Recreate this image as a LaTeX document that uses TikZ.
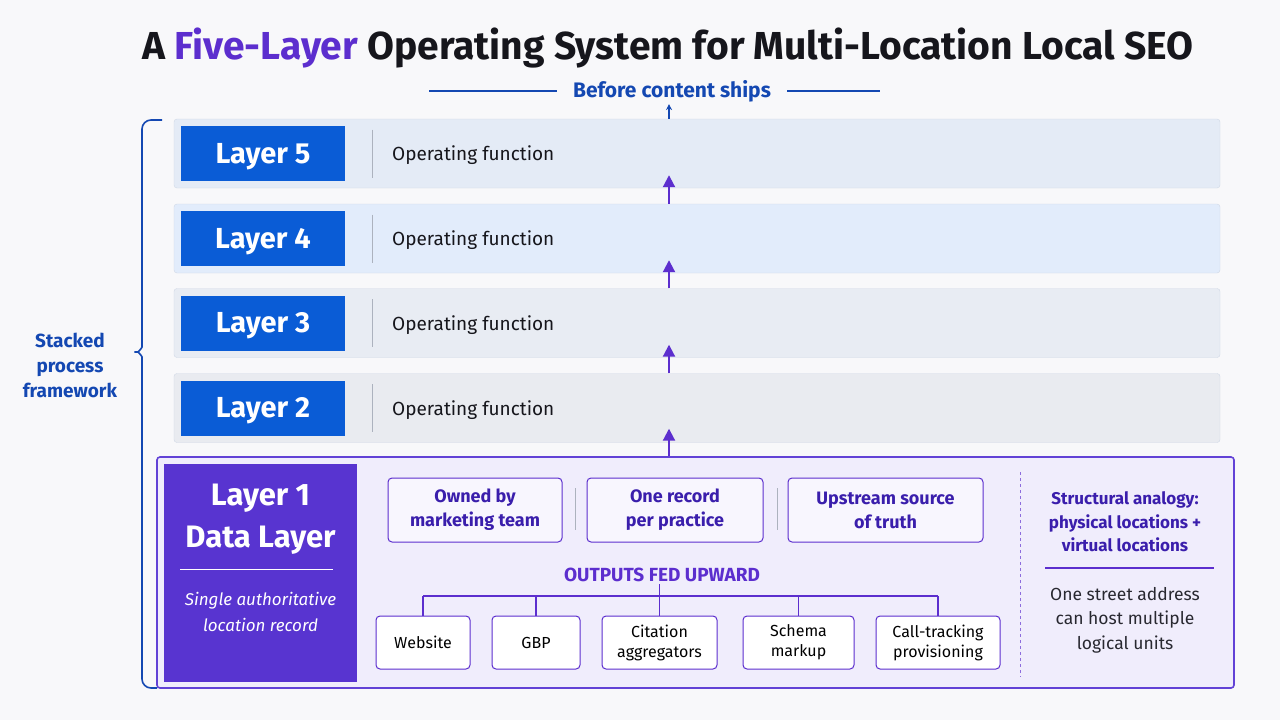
\documentclass[tikz,border=0pt]{standalone}
\usepackage{fontspec}
\setmainfont{Fira Sans}
\usetikzlibrary{arrows.meta,positioning,calc}
\definecolor{inkpurple}{RGB}{92,46,206}
\definecolor{factink}{RGB}{58,30,172}
\definecolor{inkblue}{RGB}{20,72,178}
\definecolor{titleink}{RGB}{22,22,28}
\definecolor{layerblue}{RGB}{10,92,214}
\definecolor{datapurple}{RGB}{88,52,208}
\definecolor{dataedge}{RGB}{98,66,214}
\definecolor{lavender}{RGB}{240,237,252}
\definecolor{paper}{RGB}{248,248,250}
\definecolor{rowedge}{RGB}{208,216,230}
\definecolor{rowrule}{RGB}{172,178,190}
\definecolor{rowfive}{RGB}{228,235,246}
\definecolor{rowfour}{RGB}{226,236,251}
\definecolor{rowthree}{RGB}{232,236,243}
\definecolor{rowtwo}{RGB}{233,235,240}
\definecolor{noteink}{RGB}{40,40,48}

\begin{document}
\begin{tikzpicture}[x=1pt,y=-1pt,
    row/.style={draw=rowedge, fill=#1, rounded corners=3pt, minimum width=1046pt, minimum height=69pt, inner sep=0pt},
    tag/.style={fill=layerblue, minimum width=164pt, minimum height=55pt, inner sep=0pt},
    tagtext/.style={text=white, font=\fontsize{29}{32}\selectfont\bfseries},
    fn/.style={anchor=west, inner sep=0pt, text=titleink, font=\fontsize{19}{22}\selectfont},
    factbox/.style={draw=inkpurple, line width=1pt, fill=lavender!50!white, rounded corners=4pt, minimum height=64pt, inner sep=0pt, align=center, text=factink, font=\fontsize{18}{24}\selectfont\bfseries},
    outbox/.style={draw=inkpurple, line width=1pt, fill=white, rounded corners=4pt, minimum height=53pt, inner sep=0pt, align=center, text=black, font=\fontsize{16}{20}\selectfont},
    uparrow/.style={draw=inkpurple, line width=2pt, -{Triangle[length=12pt,width=12pt]}},
    bus/.style={draw=inkpurple, line width=1.4pt},
    bracket/.style={draw=inkblue, line width=1.6pt}
]
\useasboundingbox (0,0) rectangle (1280,720);
\fill[paper] (0,0) rectangle (1280,720);

% Title
\node[anchor=base, text=titleink, font=\fontsize{39}{44}\selectfont\bfseries] (title) at (668,59)
    {A \textcolor{inkpurple}{Five-Layer} Operating System for Multi-Location Local SEO};
\node[text=inkblue, font=\fontsize{21}{24}\selectfont\bfseries, inner sep=2pt] (ships) at (672,91) {Before content ships};
\draw[inkblue, line width=1.2pt] ([xshift=-14pt]ships.west) -- ++(-128,0);
\draw[inkblue, line width=1.2pt] ([xshift=14pt]ships.east) -- ++(93,0);

% Layers 5 to 2
\foreach \n/\yc/\col in {5/153.5/rowfive, 4/238.5/rowfour, 3/323/rowthree, 2/408/rowtwo} {
  \node[row=\col] (row\n) at (697,\yc) {};
  \node[tag] (tag\n) at (263,\yc) {};
  \node[tagtext] at (263,\yc+3) {Layer \n};
  \draw[rowrule, line width=0.8pt] (372,\yc-24) -- (372,\yc+24);
  \node[fn] (fn\n) at (392,\yc+2) {Operating function};
}

% Layer 1
\node[draw=dataedge, line width=1.6pt, fill=lavender, rounded corners=3pt, minimum width=1077pt, minimum height=231pt] (layer1) at (695.5,572.5) {};
\node[fill=datapurple, minimum width=193pt, minimum height=218pt, inner sep=0pt] (tag1) at (260.5,573) {};
\node[text=white, align=center, font=\fontsize{31}{42}\selectfont\bfseries] (tag1name) at (260.5,519) {Layer 1\\Data Layer};
\draw[white, line width=0.8pt] (180,569) -- (333,569);
\node[text=white, align=center, font=\fontsize{17}{26}\selectfont\itshape] (tag1note) at (260.5,612) {Single authoritative\\location record};

\node[factbox, minimum width=174pt] (owned) at (475,510) {Owned by\\marketing team};
\node[factbox, minimum width=176pt] (record) at (675,510) {One record\\per practice};
\node[factbox, minimum width=195pt] (truth) at (885.5,510) {Upstream source\\of truth};
\draw[rowrule, line width=0.8pt] (575,488) -- (575,530);
\draw[rowrule, line width=0.8pt] (777,488) -- (777,530);

\node[text=inkpurple, font=\fontsize{19}{22}\selectfont\bfseries, inner sep=2pt] (outs) at (662,575) {OUTPUTS FED UPWARD};
\node[outbox, minimum width=94pt] (web) at (423,642.5) {Website};
\node[outbox, minimum width=88pt] (gbp) at (536,642.5) {GBP};
\node[outbox, minimum width=115pt] (cit) at (659.5,642.5) {Citation\\aggregators};
\node[outbox, minimum width=111pt] (sch) at (798.5,642.5) {Schema\\markup};
\node[outbox, minimum width=124pt] (call) at (938,642.5) {Call-tracking\\provisioning};
\coordinate (hub) at (659.5,596);
\draw[bus] (outs.south -| hub) -- (cit.north);
\draw[bus] (hub -| web.north) -- (hub -| call.north);
\foreach \b in {web,gbp,sch,call}
  \draw[bus] (hub -| \b.north) -- (\b.north);

\draw[inkpurple!70, line width=0.8pt, dash pattern=on 3pt off 3pt] (1020,472) -- (1020,677);
\node[text=factink, align=center, font=\fontsize{17}{23.5}\selectfont\bfseries] (analogy) at (1125,522)
    {Structural analogy:\\physical locations +\\virtual locations};
\draw[inkpurple, line width=1.2pt] (1045,568) -- (1214,568);
\node[text=noteink, align=center, font=\fontsize{17.5}{24.5}\selectfont] (units) at (1125,620)
    {One street address\\can host multiple\\logical units};

% Arrows between layers
\coordinate (spine) at (669,0);
\foreach \lo/\hi in {4/5,3/4,2/3}
  \draw[uparrow] (spine |- row\lo.north) -- ([yshift=13pt]spine |- row\hi.south);
\draw[uparrow] (spine |- layer1.north) -- ([yshift=14pt]spine |- row2.south);
\draw[inkblue, line width=1.2pt, -{Stealth[length=6pt,width=6pt]}] (spine |- row5.north) -- (spine |- ships.south);

% Bracket
\draw[bracket, rounded corners=9pt] (162,120) -- (142,120) -- (142,338)
    .. controls (142,348) and (138,352) .. (129,352)
    .. controls (138,352) and (142,356) .. (142,366) -- (142,688) -- (157,688);
\node[text=inkblue, align=center, font=\fontsize{19}{25}\selectfont\bfseries] (stack) at (70,365)
    {Stacked\\process\\framework};
\end{tikzpicture}
\end{document}
